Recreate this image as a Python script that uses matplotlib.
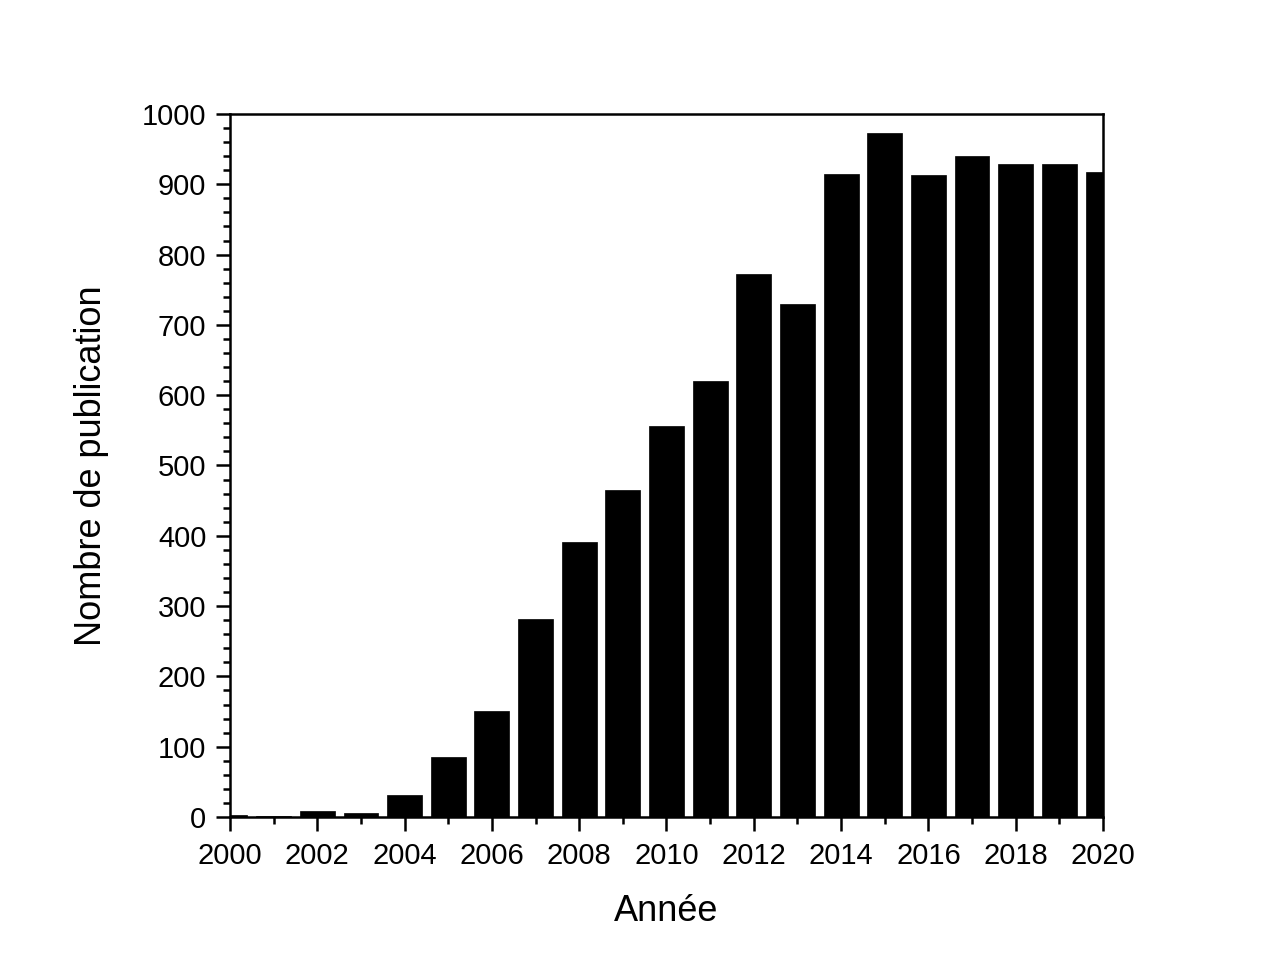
import matplotlib.pyplot as plt
from matplotlib.ticker import MultipleLocator

plt.rcParams['font.family'] = ['Liberation Sans', 'DejaVu Sans']

years = list(range(2000, 2021))
counts = [3, 2, 8, 6, 32, 85, 151, 282, 391, 465, 556, 620, 772, 730,
          915, 973, 913, 940, 929, 929, 917]

fig = plt.figure(figsize=(12.8, 9.8), dpi=100)
ax = fig.add_axes([0.1797, 0.1663, 0.682, 0.7174])

ax.bar(years, counts, width=0.8, color='black', edgecolor='black', linewidth=0.5)

ax.set_xlim(2000, 2020)
ax.set_ylim(0, 1000)
ax.xaxis.set_major_locator(MultipleLocator(2))
ax.xaxis.set_minor_locator(MultipleLocator(1))
ax.yaxis.set_major_locator(MultipleLocator(100))
ax.yaxis.set_minor_locator(MultipleLocator(20))

for s in ax.spines.values():
    s.set_linewidth(1.8)
ax.tick_params(which='major', direction='out', length=10, width=1.8, labelsize=21)
ax.tick_params(axis='y', which='major', pad=7)
ax.tick_params(axis='x', which='major', pad=8)
ax.tick_params(which='minor', direction='out', length=5, width=1.8)

ax.set_xlabel('Année', fontsize=26, labelpad=17)
ax.set_ylabel('Nombre de publication', fontsize=26, labelpad=24)

fig.savefig('out.png', dpi=100)
